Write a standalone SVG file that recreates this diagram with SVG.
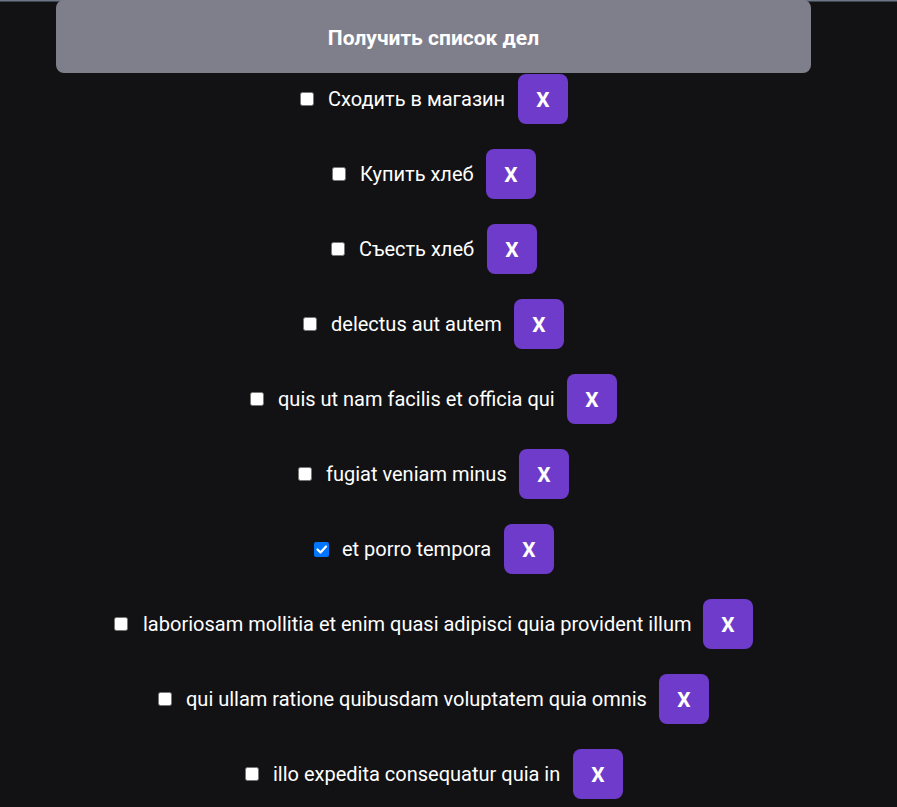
<svg xmlns="http://www.w3.org/2000/svg" width="897" height="807" viewBox="0 0 897 807">
<style>
.bg{fill:#121214}
.top{fill:#7f7e8b}
.cb{fill:#ffffff;stroke:#767676;stroke-width:1}
.cbc{fill:#0075ff}
.t{font-family:Roboto,"Liberation Sans",sans-serif;font-size:20px;fill:#ffffff}
.x{fill:#6f3bcb}
.xt{font-family:Roboto,"Liberation Sans",sans-serif;font-size:21px;font-weight:bold;fill:#ffffff;text-anchor:middle}
.bt{font-family:Roboto,"Liberation Sans",sans-serif;font-size:21px;font-weight:bold;fill:#ffffff;text-anchor:middle}
</style>
<rect class="bg" x="0" y="0" width="897" height="807"/>
<rect x="0" y="0" width="897" height="1.5" fill="#6b7785"/>
<g id="get-button">
<rect class="top" x="56" y="0" width="755" height="73" rx="8"/>
<text class="bt" x="433.5" y="45">Получить список дел</text>
</g>
<g id="item1">
<rect class="cb" x="300.5" y="92.5" width="13" height="13" rx="2"/>
<text class="t" x="328" y="106">Сходить в магазин</text>
<rect class="x" x="518" y="74" width="50" height="50" rx="8"/>
<text class="xt" x="543" y="106.5">X</text>
</g>
<g id="item2">
<rect class="cb" x="332.5" y="167.5" width="13" height="13" rx="2"/>
<text class="t" x="360" y="181">Купить хлеб</text>
<rect class="x" x="486" y="149" width="50" height="50" rx="8"/>
<text class="xt" x="511" y="181.5">X</text>
</g>
<g id="item3">
<rect class="cb" x="331.5" y="242.5" width="13" height="13" rx="2"/>
<text class="t" x="359" y="256">Съесть хлеб</text>
<rect class="x" x="487" y="224" width="50" height="50" rx="8"/>
<text class="xt" x="512" y="256.5">X</text>
</g>
<g id="item4">
<rect class="cb" x="303.5" y="317.5" width="13" height="13" rx="2"/>
<text class="t" x="331" y="331">delectus aut autem</text>
<rect class="x" x="514" y="299" width="50" height="50" rx="8"/>
<text class="xt" x="539" y="331.5">X</text>
</g>
<g id="item5">
<rect class="cb" x="250.5" y="392.5" width="13" height="13" rx="2"/>
<text class="t" x="278" y="406">quis ut nam facilis et officia qui</text>
<rect class="x" x="567" y="374" width="50" height="50" rx="8"/>
<text class="xt" x="592" y="406.5">X</text>
</g>
<g id="item6">
<rect class="cb" x="298.5" y="467.5" width="13" height="13" rx="2"/>
<text class="t" x="326" y="481">fugiat veniam minus</text>
<rect class="x" x="519" y="449" width="50" height="50" rx="8"/>
<text class="xt" x="544" y="481.5">X</text>
</g>
<g id="item7">
<rect class="cbc" x="314" y="542" width="15" height="15" rx="2"/>
<path d="M317.5 549.5 L320.5 552.5 L326 546.5" fill="none" stroke="#ffffff" stroke-width="2.2" stroke-linecap="round" stroke-linejoin="round"/>
<text class="t" x="342" y="556">et porro tempora</text>
<rect class="x" x="504" y="524" width="50" height="50" rx="8"/>
<text class="xt" x="529" y="556.5">X</text>
</g>
<g id="item8">
<rect class="cb" x="114.5" y="617.5" width="13" height="13" rx="2"/>
<text class="t" x="143" y="631">laboriosam mollitia et enim quasi adipisci quia provident illum</text>
<rect class="x" x="703" y="599" width="50" height="50" rx="8"/>
<text class="xt" x="728" y="631.5">X</text>
</g>
<g id="item9">
<rect class="cb" x="158.5" y="692.5" width="13" height="13" rx="2"/>
<text class="t" x="186" y="706">qui ullam ratione quibusdam voluptatem quia omnis</text>
<rect class="x" x="659" y="674" width="50" height="50" rx="8"/>
<text class="xt" x="684" y="706.5">X</text>
</g>
<g id="item10">
<rect class="cb" x="245.5" y="767.5" width="13" height="13" rx="2"/>
<text class="t" x="273" y="781">illo expedita consequatur quia in</text>
<rect class="x" x="573" y="749" width="50" height="50" rx="8"/>
<text class="xt" x="598" y="781.5">X</text>
</g>
<g id="connectors"></g>
</svg>
